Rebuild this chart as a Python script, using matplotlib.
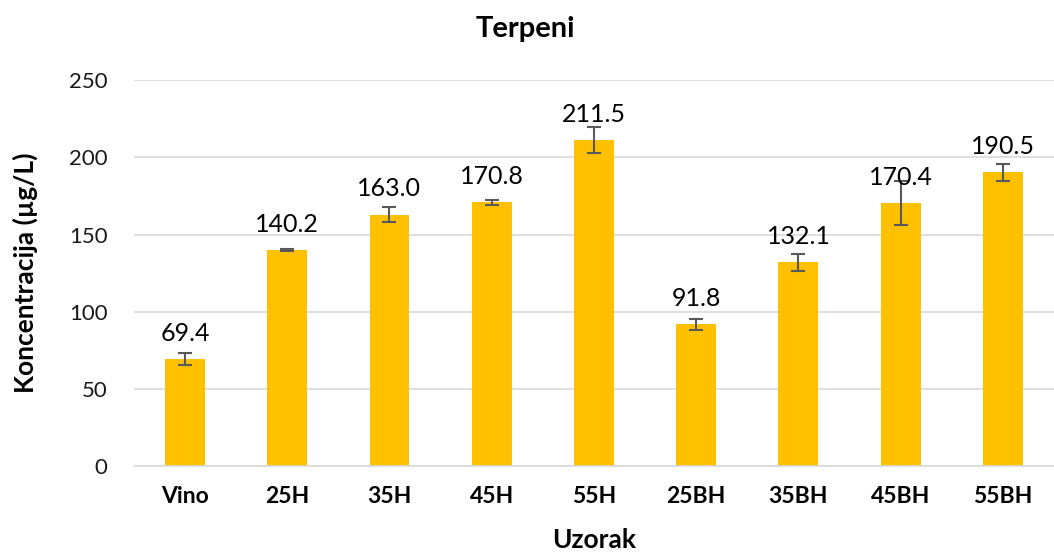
import matplotlib
matplotlib.use("Agg")
import matplotlib.pyplot as plt

categories = ["Vino", "25H", "35H", "45H", "55H", "25BH", "35BH", "45BH", "55BH"]
values = [69.4, 140.2, 163.0, 170.8, 211.5, 91.8, 132.1, 170.4, 190.5]
errors = [4.0, 0.6, 4.7, 1.8, 8.4, 3.4, 5.4, 14.3, 5.5]

plt.rcParams["font.family"] = ["Lato", "DejaVu Sans"]


def plot():
    fig = plt.figure(figsize=(10.54, 5.53), dpi=100)
    ax = fig.add_axes([0.127, 0.157, 0.873, 0.698])

    x = range(len(categories))
    ax.bar(x, values, width=0.39, color="#FFC000", zorder=2)
    ax.errorbar(x, values, yerr=errors, fmt="none", ecolor="#595959",
                elinewidth=1.5, capsize=5, capthick=1.5, zorder=3)

    for i, v in enumerate(values):
        ax.annotate("{:.1f}".format(v), (i, v), xytext=(0, 13),
                    textcoords="offset points", ha="center", va="baseline",
                    fontsize=18, color="#000000", zorder=4)

    ax.set_xlim(-0.5, len(categories) - 0.5)
    ax.set_ylim(0, 250)
    ax.set_yticks(range(0, 251, 50))
    ax.set_xticks(list(x))
    ax.set_xticklabels(categories, fontweight="bold", fontsize=16.5)
    ax.tick_params(axis="y", labelsize=16, length=0, pad=19,
                   labelcolor="#1a1a1a")
    ax.tick_params(axis="x", length=0, pad=14)
    ax.grid(axis="y", color="#D9D9D9", linewidth=1.2, zorder=0)
    for s in ["top", "right", "left"]:
        ax.spines[s].set_visible(False)
    ax.spines["bottom"].set_color("#D9D9D9")
    ax.spines["bottom"].set_linewidth(1.2)

    fig.text(0.498, 0.948, "Terpeni", fontweight="bold", fontsize=21,
             ha="center", va="center")
    ax.set_xlabel("Uzorak", fontweight="bold", fontsize=19)
    ax.xaxis.set_label_coords(0.5, -0.16)
    ax.set_ylabel("Koncentracija (µg/L)", fontweight="bold", fontsize=19)
    ax.yaxis.set_label_coords(-0.104, 0.5)

    fig.savefig("out.png", dpi=100)


if __name__ == "__main__":
    plot()
